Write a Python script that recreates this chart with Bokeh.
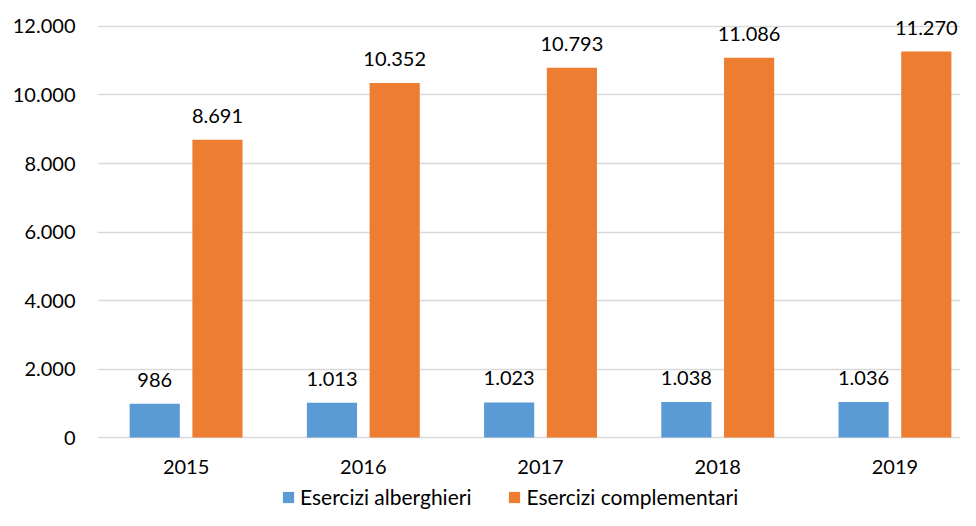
from bokeh.plotting import figure
from bokeh.models import ColumnDataSource, FixedTicker, Legend, LegendItem
from bokeh.core.properties import value
from bokeh.embed import file_html
from bokeh.resources import INLINE

years = ["2015", "2016", "2017", "2018", "2019"]
alberghieri = [986, 1013, 1023, 1038, 1036]
complementari = [8691, 10352, 10793, 11086, 11270]
y_ticks = [0, 2000, 4000, 6000, 8000, 10000, 12000]
y_tick_labels = ["0", "2.000", "4.000", "6.000", "8.000", "10.000", "12.000"]
series_names = ["Esercizi alberghieri", "Esercizi complementari"]

BLUE = "#5B9BD5"
ORANGE = "#ED7D31"
GRID = "#D9D9D9"
FONT = "Lato"
FS = "20px"

def fmt(v):
    return f"{v:,}".replace(",", ".")

idx = list(range(len(years)))
off = 0.177
bw = 0.283

src_a = ColumnDataSource(dict(x=[i - off for i in idx], y=alberghieri,
                              lab=[fmt(v) for v in alberghieri]))
src_c = ColumnDataSource(dict(x=[i + off for i in idx], y=complementari,
                              lab=[fmt(v) for v in complementari]))
src_years = ColumnDataSource(dict(x=idx, y=[0] * len(idx), lab=years))

p = figure(width=960, height=510, output_backend="svg", toolbar_location=None,
           x_range=(-0.5, 4.37), y_range=(-2131, 12759),
           min_border_left=97, min_border_right=0, min_border_top=0,
           min_border_bottom=0)
p.outline_line_color = None
p.background_fill_color = "white"
p.border_fill_color = "white"
p.xaxis.visible = False

r1 = p.vbar(x="x", top="y", width=bw, source=src_a, fill_color=BLUE, line_color=None)
r2 = p.vbar(x="x", top="y", width=bw, source=src_c, fill_color=ORANGE, line_color=None)

for s in (src_a, src_c):
    p.text(x="x", y="y", text="lab", source=s, y_offset=-24,
           text_align="center", text_baseline="middle",
           text_font=value(FONT), text_font_size=FS, text_color="#000000")

# category (year) labels under the baseline
p.text(x="x", y="y", text="lab", source=src_years, y_offset=29,
       text_align="center", text_baseline="middle",
       text_font=value(FONT), text_font_size=FS, text_color="#000000")

p.yaxis.ticker = FixedTicker(ticks=y_ticks)
p.yaxis.major_label_overrides = {t: l for t, l in zip(y_ticks, y_tick_labels)}
p.yaxis.major_tick_line_color = None
p.yaxis.minor_tick_line_color = None
p.yaxis.axis_line_color = None
p.yaxis.major_label_standoff = 16
p.yaxis.major_label_text_font = FONT
p.yaxis.major_label_text_font_size = FS
p.yaxis.major_label_text_color = "#000000"

p.xgrid.grid_line_color = None
p.ygrid.ticker = FixedTicker(ticks=y_ticks)
p.ygrid.grid_line_color = GRID
p.ygrid.grid_line_width = 1.5

legend = Legend(items=[LegendItem(label=series_names[0], renderers=[r1]),
                       LegendItem(label=series_names[1], renderers=[r2])],
                orientation="horizontal", location=(184, 1),
                glyph_width=14, glyph_height=14, label_standoff=5, spacing=36,
                padding=0, margin=0, border_line_color=None,
                background_fill_alpha=0,
                label_text_font=FONT, label_text_font_size="21px",
                label_text_color="#000000")
p.add_layout(legend, "center")

open("out.html", "w").write(file_html(p, INLINE))
